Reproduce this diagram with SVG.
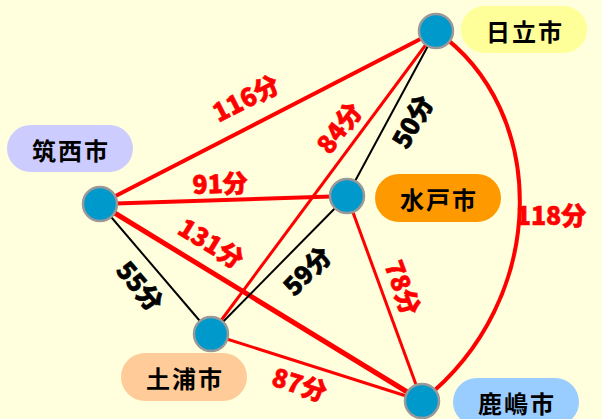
<svg xmlns="http://www.w3.org/2000/svg" width="602" height="419" viewBox="0 0 602 419">
<style>
.bg{fill:#ffffdd}
.node{fill:#0099cc;stroke:#999999;stroke-width:2.5}
.pill text{font-family:"Noto Sans CJK JP","Noto Sans",sans-serif;font-weight:bold;font-size:24px;fill:#000;text-anchor:middle;dominant-baseline:central;letter-spacing:2px}
.red{stroke:#ff0000;fill:none}
.blk{stroke:#000;stroke-width:2;fill:none}
.lbl{font-family:"Noto Sans CJK JP","Noto Sans",sans-serif;font-weight:900;font-size:25px;text-anchor:middle;dominant-baseline:central;stroke-width:0.6}
.lr{fill:#ff0000;stroke:#ff0000}
.lb{fill:#000;stroke:#000}
</style>
<rect class="bg" x="0" y="0" width="602" height="419"/>
<g id="connectors">
<line class="red" stroke-width="4" x1="100" y1="204" x2="436" y2="31"/>
<line class="red" stroke-width="4" x1="100" y1="204" x2="347" y2="196"/>
<line class="red" stroke-width="5" x1="100" y1="204" x2="422" y2="401"/>
<line class="blk" x1="100" y1="204" x2="211" y2="334"/>
<line class="red" stroke-width="3" x1="211" y1="334" x2="436" y2="31"/>
<line class="blk" x1="211" y1="334" x2="347" y2="196"/>
<line class="red" stroke-width="3" x1="211" y1="334" x2="422" y2="401"/>
<line class="blk" x1="347" y1="196" x2="436" y2="31"/>
<line class="red" stroke-width="3" x1="347" y1="196" x2="422" y2="401"/>
<path class="red" stroke-width="4" d="M436,31 C550,110 550,300 422,401"/>
<text class="lbl lr" transform="translate(245,97) rotate(-27)">116分</text>
<text class="lbl lr" transform="translate(220,182) rotate(-2)">91分</text>
<text class="lbl lr" transform="translate(212,242) rotate(31.5)">131分</text>
<text class="lbl lb" transform="translate(141,285) rotate(49.5)">55分</text>
<text class="lbl lr" transform="translate(338,127) rotate(-53)">84分</text>
<text class="lbl lb" transform="translate(411,121) rotate(-61)">50分</text>
<text class="lbl lb" transform="translate(306,270) rotate(-45.6)">59分</text>
<text class="lbl lr" transform="translate(404,287) rotate(69.7)">78分</text>
<text class="lbl lr" transform="translate(300,383) rotate(17.6)">87分</text>
<text class="lbl lr" transform="translate(551,214)">118分</text>
</g>
<g id="hitachi">
<circle class="node" cx="436" cy="31" r="17"/>
<g class="pill"><rect x="461" y="6" width="126" height="47" rx="23.5" fill="#ffff99"/><text x="525" y="30">日立市</text></g>
</g>
<g id="chikusei">
<circle class="node" cx="100" cy="204" r="17"/>
<g class="pill"><rect x="7" y="125" width="126" height="47" rx="23.5" fill="#ccccff"/><text x="71" y="149">筑西市</text></g>
</g>
<g id="mito">
<circle class="node" cx="347" cy="196" r="17"/>
<g class="pill"><rect x="375" y="174" width="126" height="48" rx="24" fill="#ff9900"/><text x="439" y="198">水戸市</text></g>
</g>
<g id="tsuchiura">
<circle class="node" cx="211" cy="334" r="17"/>
<g class="pill"><rect x="121" y="353" width="126" height="48" rx="24" fill="#ffcc99"/><text x="185" y="377">土浦市</text></g>
</g>
<g id="kashima">
<circle class="node" cx="422" cy="401" r="17"/>
<g class="pill"><rect x="453" y="378" width="126" height="48" rx="24" fill="#99ccff"/><text x="517" y="402">鹿嶋市</text></g>
</g>
</svg>
